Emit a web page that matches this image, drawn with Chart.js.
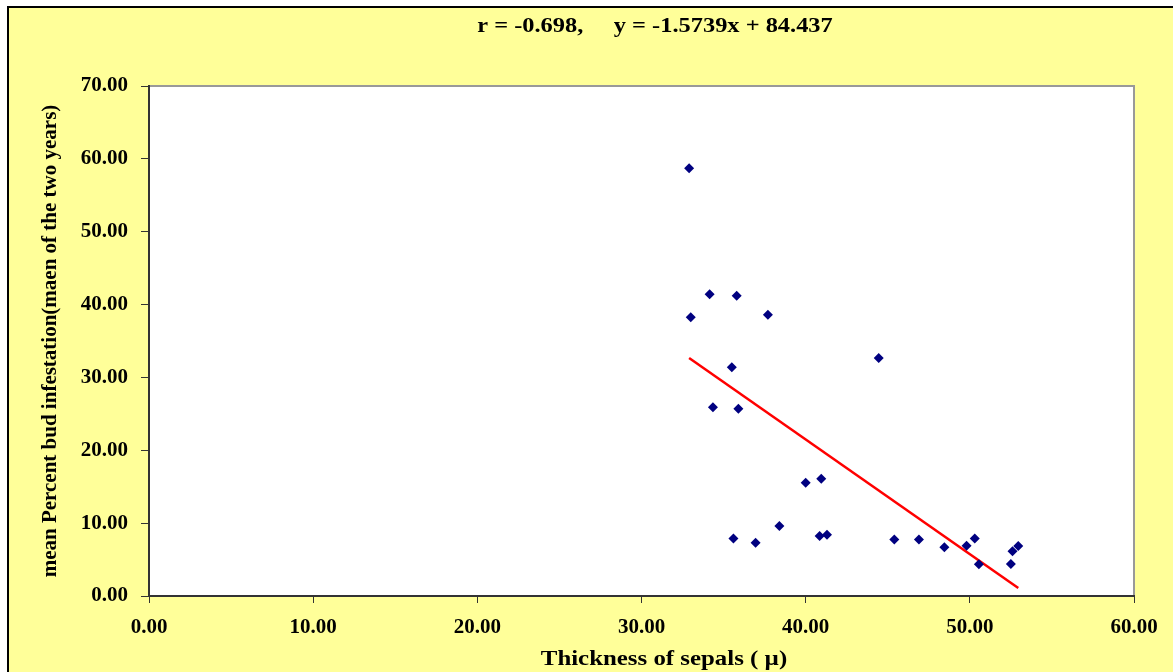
<!DOCTYPE html>
<html lang="en">
<head>
  <meta charset="UTF-8">
  <title>Thickness of sepals vs bud infestation</title>
  <script src="https://cdn.jsdelivr.net/npm/chart.js"></script>
  <style>
    html, body {
      margin: 0;
      padding: 0;
      background: #fff;
    }
    .chart-box {
      width: 1173px;
      height: 672px;
    }
  </style>
</head>
<body>
<div class="chart-box">
  <canvas id="scatterChart"></canvas>
</div>

<script>
  // sepal thickness (x) and mean % bud infestation (y)
  const thickness = [32.9, 34.15, 35.8, 33.0, 37.7, 44.45, 35.5, 34.35, 35.9,
                     40.0, 40.95, 35.6, 36.95, 38.4, 40.85, 41.3, 45.4, 46.9,
                     48.45, 49.8, 50.3, 50.55, 52.5, 52.6, 52.95];
  const infestation = [58.7, 41.4, 41.2, 38.25, 38.6, 32.65, 31.4, 25.9, 25.7,
                       15.55, 16.1, 7.9, 7.3, 9.6, 8.25, 8.4, 7.75, 7.75,
                       6.7, 6.9, 7.9, 4.35, 4.4, 6.15, 6.85];

  // regression from the chart title
  const slope = -1.5739;
  const intercept = 84.437;
  const trendX = [32.9, 52.95];

  const xTicks = [0, 10, 20, 30, 40, 50, 60];
  const yTicks = [0, 10, 20, 30, 40, 50, 60, 70];

  const serif = "'Liberation Serif', 'Times New Roman', serif";

  const points = thickness.map((x, i) => ({ x: x, y: infestation[i] }));
  const trend = trendX.map(x => ({ x: x, y: slope * x + intercept }));

  // draw a line of text a little wider than plain Times, like the original
  function wideText(ctx, text, x, y, size, stretch) {
    ctx.save();
    ctx.translate(x, y);
    ctx.scale(stretch, 1);
    ctx.fillStyle = '#000';
    ctx.font = 'bold ' + size + 'px ' + serif;
    ctx.textAlign = 'center';
    ctx.textBaseline = 'middle';
    ctx.fillText(text, 0, 0);
    ctx.restore();
  }

  // yellow frame, black border, white plot area with grey top/right edge
  const framePlugin = {
    id: 'frame',
    beforeDraw(chart) {
      const ctx = chart.ctx;
      const a = chart.chartArea;
      ctx.save();
      ctx.fillStyle = '#ffffff';
      ctx.fillRect(0, 0, chart.width, chart.height);
      ctx.fillStyle = '#FFFF99';
      ctx.fillRect(8, 7, chart.width, chart.height);
      ctx.strokeStyle = '#000';
      ctx.lineWidth = 2;
      ctx.strokeRect(8, 7, chart.width + 10, chart.height + 10);
      ctx.fillStyle = '#ffffff';
      ctx.fillRect(a.left, a.top, a.right - a.left, a.bottom - a.top);
      ctx.strokeStyle = '#999999';
      ctx.lineWidth = 2;
      ctx.beginPath();
      ctx.moveTo(a.left, a.top);
      ctx.lineTo(a.right, a.top);
      ctx.lineTo(a.right, a.bottom);
      ctx.stroke();
      ctx.restore();
    },
    afterDraw(chart) {
      wideText(chart.ctx, 'r = -0.698,     y = -1.5739x + 84.437', 655, 27, 20, 1.22);
      wideText(chart.ctx, 'Thickness of sepals ( µ)', 664, 659, 22, 1.13);
    }
  };

  new Chart(document.getElementById('scatterChart'), {
    type: 'scatter',
    data: {
      datasets: [
        {
          label: 'Observed',
          data: points,
          pointStyle: 'rectRot',
          pointRadius: 5,
          backgroundColor: '#000080',
          borderColor: '#000080',
          borderWidth: 0
        },
        {
          type: 'line',
          label: 'Trend',
          data: trend,
          borderColor: '#FF0000',
          borderWidth: 2.5,
          pointRadius: 0,
          fill: false
        }
      ]
    },
    options: {
      responsive: true,
      maintainAspectRatio: false,
      animation: false,
      layout: {
        padding: { left: 0, top: 86, right: 39, bottom: 0 }
      },
      plugins: {
        legend: { display: false },
        tooltip: { enabled: false }
      },
      scales: {
        x: {
          type: 'linear',
          min: 0,
          max: 60,
          afterBuildTicks: scale => { scale.ticks = xTicks.map(v => ({ value: v })); },
          afterFit: scale => { scale.height = 76; },
          grid: { display: true, drawOnChartArea: false, drawTicks: true, tickLength: 7, color: '#333' },
          border: { display: true, color: '#333', width: 2 },
          ticks: {
            padding: 12,
            color: '#000',
            font: { family: serif, size: 21, weight: 'bold' },
            callback: v => v.toFixed(2)
          },
          title: { display: false }
        },
        y: {
          type: 'linear',
          min: 0,
          max: 70,
          afterBuildTicks: scale => { scale.ticks = yTicks.map(v => ({ value: v })); },
          afterFit: scale => { scale.width = 149; },
          grid: { display: true, drawOnChartArea: false, drawTicks: true, tickLength: 8, color: '#333' },
          border: { display: true, color: '#333', width: 2 },
          ticks: {
            padding: 13,
            color: '#000',
            font: { family: serif, size: 21, weight: 'bold' },
            callback: v => v.toFixed(2)
          },
          title: {
            display: true,
            text: 'mean Percent bud infestation(maen of the two years)',
            color: '#000',
            font: { family: serif, size: 21, weight: 'bold' },
            padding: { top: 38, bottom: 0 }
          }
        }
      }
    },
    plugins: [framePlugin]
  });
</script>
</body>
</html>
